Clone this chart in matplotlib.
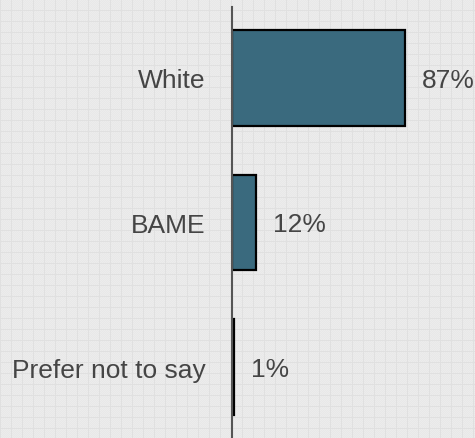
import numpy as np
import matplotlib
matplotlib.use("Agg")
import matplotlib.pyplot as plt

categories = ["White", "BAME", "Prefer not to say"]
values = [87, 12, 1]
value_labels = ["87%", "12%", "1%"]

W, H = 475, 439
fig = plt.figure(figsize=(W / 100, H / 100), dpi=100)

# background grid texture
bg = np.full((H, W), 236, dtype=np.uint8)
bg[::2, ::2] = 232
bg[1::2, 1::2] = 232
bg[:, ::11] = 224
bg[::11, :] = 224
bg_rgb = np.stack([bg, bg, bg], axis=-1)
bax = fig.add_axes([0, 0, 1, 1], zorder=-1)
bax.imshow(bg_rgb, aspect="auto", interpolation="nearest")
bax.axis("off")

ax = fig.add_axes([232 / W, 0, 1 - 232 / W, 1 - 8 / H], zorder=1)
ax.patch.set_alpha(0)
y = np.arange(len(categories))
ax.barh(y, values, height=0.66, color="#3a6a7e", edgecolor="black", linewidth=1.6, zorder=3)
ax.set_xlim(0, 122)
ax.set_ylim(2.49, -0.49)

for s in ["top", "right", "bottom"]:
    ax.spines[s].set_visible(False)
ax.spines["left"].set_color("#555555")
ax.spines["left"].set_linewidth(1.5)
ax.spines["left"].set_zorder(4)
ax.set_xticks([])
ax.set_yticks(y)
ax.set_yticklabels(categories, fontsize=19, color="#454545", family="Liberation Sans")
ax.tick_params(axis="y", length=0, pad=19)

for yi, v, lab in zip(y, values, value_labels):
    ax.annotate(lab, (v, yi), xytext=(17, -2), textcoords="offset pixels",
                va="center", ha="left", fontsize=19, color="#454545",
                family="Liberation Sans")

fig.savefig("out.png", dpi=100)
